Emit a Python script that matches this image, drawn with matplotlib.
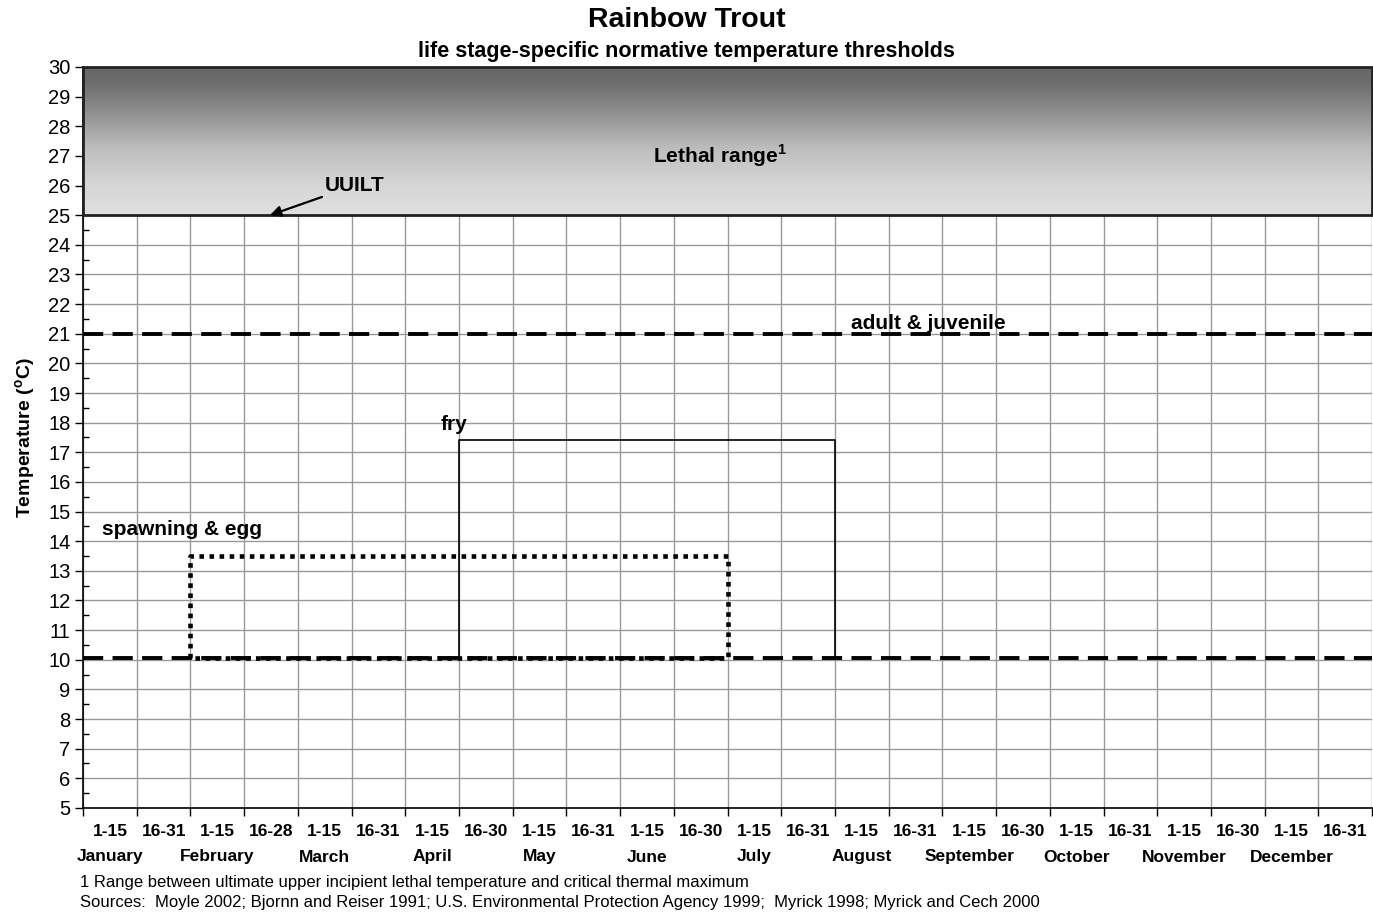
import numpy as np
import matplotlib
matplotlib.use("Agg")
import matplotlib.pyplot as plt
from matplotlib.colors import LinearSegmentedColormap
from matplotlib.transforms import blended_transform_factory

plt.rcParams["font.family"] = ["Liberation Sans", "DejaVu Sans"]
plt.rcParams["mathtext.fontset"] = "custom"
plt.rcParams["mathtext.rm"] = "Liberation Sans"
plt.rcParams["mathtext.bf"] = "Liberation Sans:bold"

# half-month periods along x
months = ["January", "February", "March", "April", "May", "June", "July",
          "August", "September", "October", "November", "December"]
half_labels = ["1-15", "16-31", "1-15", "16-28", "1-15", "16-31", "1-15", "16-30",
               "1-15", "16-31", "1-15", "16-30", "1-15", "16-31", "1-15", "16-31",
               "1-15", "16-30", "1-15", "16-31", "1-15", "16-30", "1-15", "16-31"]

# thresholds (deg C)
lethal_low, lethal_high = 25, 30
adult_juv_max = 21
lower_line = 10.05
# life stage boxes: (start period, end period, low, high)
spawn_box = (2, 12, 10.05, 13.5)
fry_box = (7, 14, 10.05, 17.4)

fig = plt.figure(figsize=(13.73, 9.15), dpi=100)
ax = fig.add_axes([0.0605, 0.117, 0.9388, 0.8098])
ax.set_xlim(0, 24)
ax.set_ylim(5, 30)

# grid
ax.set_xticks(np.arange(0, 25))
ax.set_yticks(np.arange(5, 31))
ax.set_yticks(np.arange(5.5, 30, 1), minor=True)
ax.grid(True, which="major", color="#999999", linewidth=1.0)
ax.set_axisbelow(True)
ax.tick_params(axis="x", which="major", direction="out", length=6, labelbottom=False,
               color="black", width=1)
ax.tick_params(axis="y", which="major", direction="out", length=6, labelsize=14.5,
               color="black", width=1, pad=3)
ax.tick_params(axis="y", which="minor", direction="in", length=4, color="black", width=1)
for s in ["top", "right"]:
    ax.spines[s].set_visible(False)
ax.spines["left"].set_linewidth(1.2)
ax.spines["bottom"].set_linewidth(1.2)

# lethal range box with gradient
grad_cmap = LinearSegmentedColormap.from_list(
    "lethal", [(0.0, "#e0e0e0"), (0.2, "#d6d6d6"), (0.45, "#bdbdbd"),
               (0.7, "#8e8e8e"), (0.88, "#6e6e6e"), (1.0, "#666666")])
grad = np.linspace(0, 1, 256).reshape(-1, 1)
ax.imshow(grad, extent=[0, 24, lethal_low, lethal_high], origin="lower", aspect="auto",
          cmap=grad_cmap, zorder=2)
ax.add_patch(plt.Rectangle((0, lethal_low), 24, lethal_high - lethal_low, fill=False,
                           edgecolor="#222222", linewidth=2, zorder=3, clip_on=False))

# dashed threshold lines
for yv in [adult_juv_max, lower_line]:
    ax.plot([0, 24], [yv, yv], color="black", linewidth=2.8, dashes=(5.2, 2.4), zorder=4)

# spawning & egg (dotted)
x0, x1, y0, y1 = spawn_box
ax.plot([x0, x0, x1, x1, x0], [y0, y1, y1, y0, y0], color="black", linewidth=3.3,
        dashes=(1, 1.2), zorder=5)
# fry (solid)
x0, x1, y0, y1 = fry_box
ax.plot([x0, x0, x1, x1], [y0, y1, y1, y0], color="black", linewidth=1.2, zorder=5)

# annotations
ax.text(11.85, 27.0, r"Lethal range$^{\mathbf{1}}$", ha="center", va="center",
        fontsize=15, fontweight="bold", zorder=6)
ax.annotate("UUILT", xy=(3.48, 25.0), xytext=(4.5, 26.0), fontsize=15, fontweight="bold",
            va="center", ha="left", zorder=6,
            arrowprops=dict(arrowstyle="-|>", color="black", lw=1.6, mutation_scale=16,
                            shrinkA=0, shrinkB=0))
ax.text(14.29, 21.15, "adult & juvenile", ha="left", va="baseline", fontsize=15,
        fontweight="bold", zorder=6)
ax.text(6.65, 17.75, "fry", ha="left", va="baseline", fontsize=15, fontweight="bold", zorder=6)
ax.text(0.35, 14.2, "spawning & egg", ha="left", va="baseline", fontsize=15,
        fontweight="bold", zorder=6)

# x labels: half-month row and month row
trans = blended_transform_factory(ax.transData, fig.transFigure)
for i, lab in enumerate(half_labels):
    ax.text(i + 0.5, 1 - 832 / 915, lab, transform=trans, ha="center", va="center",
            fontsize=12.5, fontweight="bold")
for i, m in enumerate(months):
    ax.text(2 * i + 0.5, 1 - 857 / 915, m, transform=trans, ha="center", va="center",
            fontsize=12.5, fontweight="bold")

ax.set_ylabel(r"Temperature ($\mathbf{^o}$C)", fontsize=14, fontweight="bold", labelpad=8)

fig.text(0.5, 1 - 20 / 915, "Rainbow Trout", ha="center", va="center", fontsize=20.5,
         fontweight="bold")
fig.text(0.5, 1 - 52 / 915, "life stage-specific normative temperature thresholds",
         ha="center", va="center", fontsize=15.5, fontweight="bold")

fig.text(80 / 1373, 1 - 883 / 915,
         "1 Range between ultimate upper incipient lethal temperature and critical thermal maximum",
         ha="left", va="center", fontsize=12)
fig.text(80 / 1373, 1 - 903 / 915,
         "Sources:  Moyle 2002; Bjornn and Reiser 1991; U.S. Environmental Protection Agency 1999;  "
         "Myrick 1998; Myrick and Cech 2000",
         ha="left", va="center", fontsize=12)

fig.savefig("out.png", dpi=100)
